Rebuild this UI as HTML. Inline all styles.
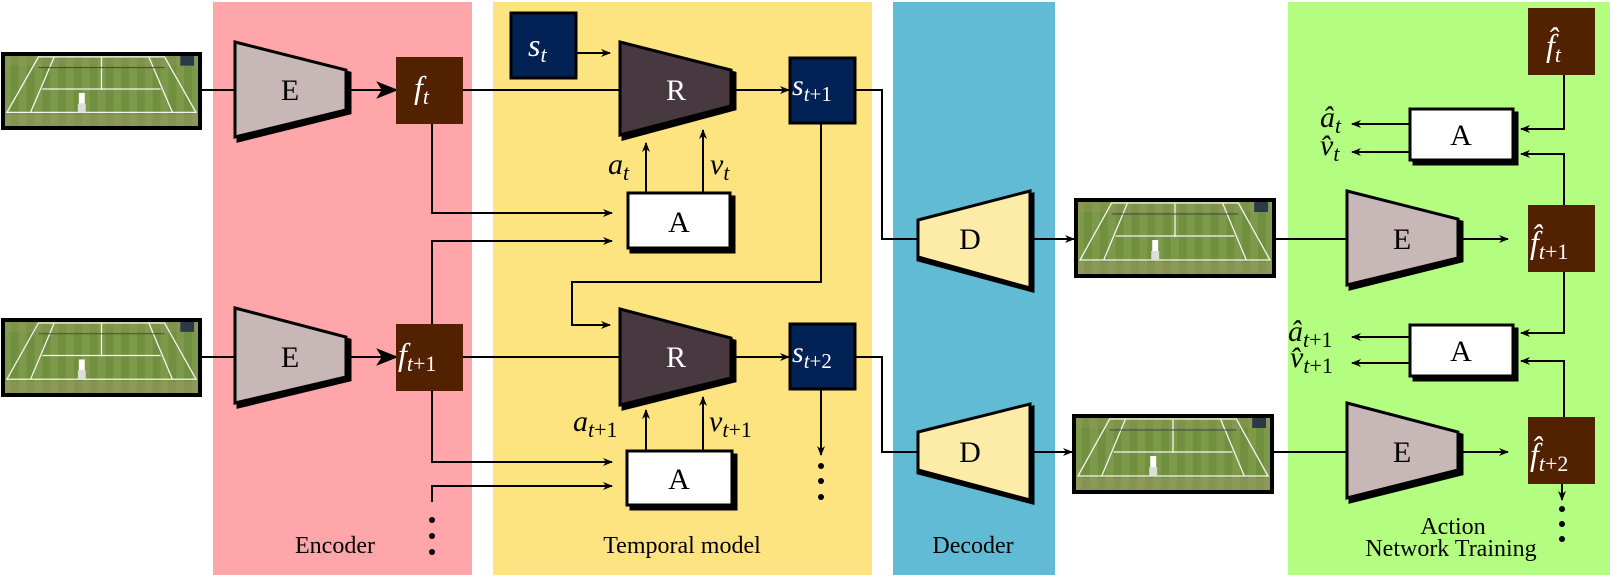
<!DOCTYPE html>
<html><head><meta charset="utf-8"><style>
html,body{margin:0;padding:0;background:#fff}
svg{display:block}
</style></head><body>
<svg width="1610" height="576" viewBox="0 0 1610 576" xmlns="http://www.w3.org/2000/svg" font-family="Liberation Serif, DejaVu Serif, serif">
<defs>
<marker id="ar" viewBox="0 0 10 10" refX="9" refY="5" markerWidth="10" markerHeight="10" markerUnits="userSpaceOnUse" orient="auto">
<path d="M0,1 L10,5 L0,9 L3,5 z" fill="#000"/></marker>
<marker id="big" viewBox="0 0 10 10" refX="9" refY="5" markerWidth="22" markerHeight="22" markerUnits="userSpaceOnUse" orient="auto">
<path d="M0,1 L10,5 L0,9 L2.5,5 z" fill="#000"/></marker>
<symbol id="court" viewBox="0 0 200 76" preserveAspectRatio="none">
<rect width="200" height="76" fill="#71903f" stroke="none"/>
<g fill="#7d9a4a" stroke="none">
<rect x="0" width="8" height="76"/><rect x="16" width="8" height="76"/><rect x="32" width="8" height="76"/><rect x="48" width="8" height="76"/><rect x="64" width="8" height="76"/><rect x="80" width="8" height="76"/><rect x="96" width="8" height="76"/><rect x="112" width="8" height="76"/><rect x="128" width="8" height="76"/><rect x="144" width="8" height="76"/><rect x="160" width="8" height="76"/><rect x="176" width="8" height="76"/><rect x="192" width="8" height="76"/></g>
<rect x="0" y="62" width="200" height="14" fill="#9c9866" opacity="0.5" stroke="none"/>
<rect x="0" y="0" width="200" height="12" fill="#9c9866" opacity="0.3" stroke="none"/>
<g stroke="#f4f4f4" stroke-width="1.3" fill="none">
<path d="M36,3 L164,3 L196,60 L4,60 Z"/><path d="M52,3 L28,60 M148,3 L172,60 M100,3 L100,37 M40,36 L160,36"/></g>
<path d="M36,14 L164,14" stroke="#444" stroke-width="1"/>
<rect x="180" y="2" width="14" height="10" fill="#2a3a4a" stroke="none"/>
<rect x="77" y="40" width="6" height="11" fill="#fff" stroke="none"/><rect x="76" y="51" width="8" height="9" fill="#ddd" stroke="none"/>
</symbol>
</defs>

<rect x="213" y="2" width="259" height="573" fill="#fea6a9"/>
<rect x="493" y="2" width="379" height="573" fill="#fee381"/>
<rect x="893" y="2" width="162" height="573" fill="#61bbd4"/>
<rect x="1288" y="2" width="322" height="573" fill="#b3fe80"/>

<use href="#court" x="3" y="54" width="197" height="74"/>
<use href="#court" x="3" y="320" width="197" height="75"/>
<use href="#court" x="1076" y="200" width="198" height="76"/>
<use href="#court" x="1074" y="416" width="198" height="76"/>
<g stroke="#000" stroke-width="4" fill="none">
<rect x="3" y="54" width="197" height="74"/>
<rect x="3" y="320" width="197" height="75"/>
<rect x="1076" y="200" width="198" height="76"/>
<rect x="1074" y="416" width="198" height="76"/>
</g>

<g stroke="#000" stroke-width="2" fill="none">
<line x1="200" y1="90" x2="234" y2="90"/>
<line x1="200" y1="357" x2="234" y2="357"/>
<line x1="348" y1="90" x2="396" y2="90" marker-end="url(#big)"/>
<line x1="348" y1="357" x2="396" y2="357" marker-end="url(#big)"/>
<line x1="463" y1="90" x2="621" y2="90"/>
<line x1="463" y1="357" x2="621" y2="357"/>
<polyline points="432,124 432,213 612,213" marker-end="url(#ar)"/>
<polyline points="432,324 432,241 612,241" marker-end="url(#ar)"/>
<polyline points="432,391 432,462 612,462" marker-end="url(#ar)"/>
<polyline points="432,502 432,486 612,486" marker-end="url(#ar)"/>
<line x1="577" y1="53" x2="610" y2="53" marker-end="url(#ar)"/>
<line x1="734" y1="90" x2="789" y2="90" marker-end="url(#ar)"/>
<line x1="734" y1="357" x2="789" y2="357" marker-end="url(#ar)"/>
<line x1="646" y1="193" x2="646" y2="143" marker-end="url(#ar)"/>
<line x1="703" y1="193" x2="703" y2="130" marker-end="url(#ar)"/>
<line x1="646" y1="451" x2="646" y2="410" marker-end="url(#ar)"/>
<line x1="703" y1="451" x2="703" y2="397" marker-end="url(#ar)"/>
<polyline points="821,122 821,282 572,282 572,325 610,325" marker-end="url(#ar)"/>
<line x1="821" y1="389" x2="821" y2="455" marker-end="url(#ar)"/>
<polyline points="855,90 882,90 882,239 920,239"/>
<polyline points="855,357 882,357 882,452 920,452"/>
<line x1="1032" y1="239" x2="1074" y2="239" marker-end="url(#ar)"/>
<line x1="1032" y1="452" x2="1072" y2="452" marker-end="url(#ar)"/>
<line x1="1274" y1="239" x2="1347" y2="239"/>
<line x1="1272" y1="452" x2="1348" y2="452"/>
<line x1="1461" y1="239" x2="1508" y2="239" marker-end="url(#ar)"/>
<line x1="1461" y1="452" x2="1508" y2="452" marker-end="url(#ar)"/>
<polyline points="1564,75 1564,129 1521,129" marker-end="url(#ar)"/>
<polyline points="1564,205 1564,154 1521,154" marker-end="url(#ar)"/>
<polyline points="1564,272 1564,333 1521,333" marker-end="url(#ar)"/>
<polyline points="1564,417 1564,361 1521,361" marker-end="url(#ar)"/>
<line x1="1410" y1="124" x2="1352" y2="124" marker-end="url(#ar)"/>
<line x1="1410" y1="152" x2="1352" y2="152" marker-end="url(#ar)"/>
<line x1="1410" y1="337" x2="1352" y2="337" marker-end="url(#ar)"/>
<line x1="1410" y1="363" x2="1352" y2="363" marker-end="url(#ar)"/>
<line x1="1562" y1="484" x2="1562" y2="500" marker-end="url(#ar)"/>
</g>

<g fill="#000">
<circle cx="432" cy="520" r="3"/><circle cx="432" cy="536" r="3"/><circle cx="432" cy="552" r="3"/>
<circle cx="821" cy="466" r="3"/><circle cx="821" cy="481" r="3"/><circle cx="821" cy="497" r="3"/>
<circle cx="1562" cy="509" r="3"/><circle cx="1562" cy="524" r="3"/><circle cx="1562" cy="539" r="3"/>
</g>

<g stroke="#000" stroke-width="3">
<polygon points="238,45 350,73 350,113 238,141" fill="#000"/>
<polygon points="235,42 346,70 346,110 235,137" fill="#c7b7b7"/>
<polygon points="238,311 350,340 350,380 238,407" fill="#000"/>
<polygon points="235,308 346,337 346,377 235,403" fill="#c7b7b7"/>
<polygon points="1350,194 1462,222 1462,261 1350,289" fill="#000"/>
<polygon points="1347,191 1458,219 1458,258 1347,285" fill="#c7b7b7"/>
<polygon points="1350,406 1462,435 1462,474 1350,502" fill="#000"/>
<polygon points="1347,403 1458,432 1458,470 1347,498" fill="#c7b7b7"/>
<polygon points="623,45 735,73 735,109 623,139" fill="#000"/>
<polygon points="620,42 731,70 731,106 620,135" fill="#483840"/>
<polygon points="623,312 735,341 735,381 623,409" fill="#000"/>
<polygon points="620,309 731,338 731,378 620,405" fill="#483840"/>
<polygon points="918,223 1033,194 1033,291 918,260" fill="#000"/>
<polygon points="918,220 1030,191 1030,288 918,257" fill="#fdeca8"/>
<polygon points="918,435 1033,407 1033,503 918,473" fill="#000"/>
<polygon points="918,432 1030,404 1030,500 918,470" fill="#fdeca8"/>
</g>

<g stroke="#000" stroke-width="3">
<rect x="631" y="197" width="103" height="55" fill="#000"/>
<rect x="628" y="193" width="102" height="55" fill="#fff"/>
<rect x="631" y="455" width="105" height="54" fill="#000"/>
<rect x="627" y="451" width="105" height="54" fill="#fff"/>
<rect x="1414" y="113" width="103" height="51" fill="#000"/>
<rect x="1410" y="109" width="103" height="51" fill="#fff"/>
<rect x="1414" y="329" width="103" height="51" fill="#000"/>
<rect x="1410" y="325" width="103" height="51" fill="#fff"/>
</g>

<g fill="#522200">
<rect x="396" y="57" width="67" height="67"/>
<rect x="396" y="324" width="67" height="67"/>
<rect x="1528" y="8" width="67" height="67"/>
<rect x="1528" y="205" width="67" height="67"/>
<rect x="1528" y="417" width="67" height="67"/>
</g>
<g fill="#022255" stroke="#000" stroke-width="3">
<rect x="511" y="13" width="65" height="65"/>
<rect x="790" y="58" width="65" height="65"/>
<rect x="790" y="324" width="65" height="65"/>
</g>

<g font-size="30" text-anchor="middle">
<text x="290" y="100">E</text><text x="290" y="367">E</text>
<text x="1402" y="249">E</text><text x="1402" y="462">E</text>
<text x="676" y="100" fill="#fff">R</text><text x="676" y="367" fill="#fff">R</text>
<text x="970" y="249">D</text><text x="970" y="462">D</text>
<text x="679" y="232">A</text><text x="679" y="489">A</text>
<text x="1461" y="145">A</text><text x="1461" y="361">A</text>
</g>
<g fill="#fff" font-size="32" font-style="italic">
<text x="414" y="98">f<tspan font-size="22" dy="6">t</tspan></text>
<text x="398" y="365">f<tspan font-size="22" dy="6">t</tspan><tspan font-size="22" font-style="normal">+1</tspan></text>
<text x="528" y="56">s<tspan font-size="22" dy="6">t</tspan></text>
<text x="792" y="95" font-size="30">s<tspan font-size="21" dy="6">t</tspan><tspan font-size="21" font-style="normal">+1</tspan></text>
<text x="792" y="362" font-size="30">s<tspan font-size="21" dy="6">t</tspan><tspan font-size="21" font-style="normal">+2</tspan></text>
<text x="1546" y="56">f̂<tspan font-size="22" dy="6">t</tspan></text>
<text x="1530" y="253">f̂<tspan font-size="22" dy="6">t</tspan><tspan font-size="22" font-style="normal">+1</tspan></text>
<text x="1530" y="465">f̂<tspan font-size="22" dy="6">t</tspan><tspan font-size="22" font-style="normal">+2</tspan></text>
</g>
<g font-size="30" font-style="italic">
<text x="608" y="174">a<tspan font-size="22" dy="6">t</tspan></text>
<text x="710" y="174">v<tspan font-size="22" dy="6">t</tspan></text>
<text x="573" y="431">a<tspan font-size="22" dy="6">t</tspan><tspan font-size="22" font-style="normal">+1</tspan></text>
<text x="709" y="431">v<tspan font-size="22" dy="6">t</tspan><tspan font-size="22" font-style="normal">+1</tspan></text>
<text x="1320" y="127">â<tspan font-size="22" dy="6">t</tspan></text>
<text x="1320" y="155">v̂<tspan font-size="22" dy="6">t</tspan></text>
<text x="1288" y="341">â<tspan font-size="22" dy="6">t</tspan><tspan font-size="22" font-style="normal">+1</tspan></text>
<text x="1290" y="367">v̂<tspan font-size="22" dy="6">t</tspan><tspan font-size="22" font-style="normal">+1</tspan></text>
</g>
<g font-size="24" text-anchor="middle">
<text x="335" y="553">Encoder</text>
<text x="682" y="553">Temporal model</text>
<text x="973" y="553">Decoder</text>
<text x="1453" y="534">Action</text>
<text x="1451" y="556">Network Training</text>
</g>
</svg>
</body></html>
